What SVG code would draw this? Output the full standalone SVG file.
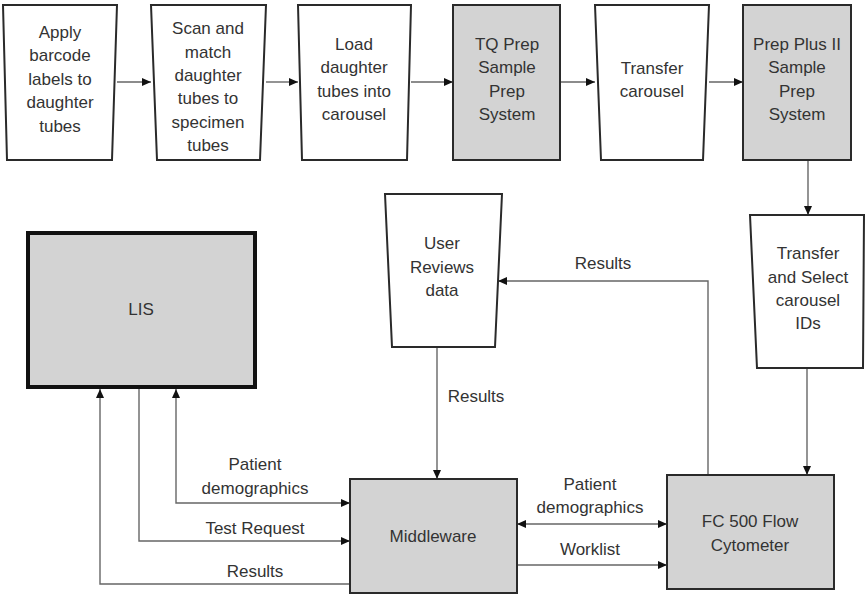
<svg xmlns="http://www.w3.org/2000/svg" width="865" height="594" viewBox="0 0 865 594">
<style>
.box{fill:#fff;stroke:#2a2a2a;stroke-width:2}
.gbox{fill:#d3d3d3;stroke:#2a2a2a;stroke-width:2}
.lis{fill:#d3d3d3;stroke:#111;stroke-width:4}
text{font-family:"Liberation Sans",Arial,sans-serif;font-size:17px;fill:#333;text-anchor:middle}
.c{fill:none;stroke:#666;stroke-width:1.4}
</style>
<defs>
<marker id="ah" markerWidth="9" markerHeight="8" refX="9" refY="4" orient="auto-start-reverse" markerUnits="userSpaceOnUse">
<path d="M0,0 L9,4 L0,8 z" fill="#111"/>
</marker>
</defs>
<rect width="865" height="594" fill="#fff"/>
<g id="connectors">
<path class="c" d="M117,82 H151" marker-end="url(#ah)"/>
<path class="c" d="M266,82 H298" marker-end="url(#ah)"/>
<path class="c" d="M411,82 H453" marker-end="url(#ah)"/>
<path class="c" d="M560,82 H595" marker-end="url(#ah)"/>
<path class="c" d="M709,82 H743" marker-end="url(#ah)"/>
<path class="c" d="M808,160 V215" marker-end="url(#ah)"/>
<path class="c" d="M807,368 V475" marker-end="url(#ah)"/>
<path class="c" d="M708,475 V281 H498" marker-end="url(#ah)"/>
<path class="c" d="M437,347 V479" marker-end="url(#ah)"/>
<path class="c" d="M517,524 H667" marker-start="url(#ah)" marker-end="url(#ah)"/>
<path class="c" d="M517,565 H667" marker-end="url(#ah)"/>
<path class="c" d="M176,389 V503 H350" marker-start="url(#ah)" marker-end="url(#ah)"/>
<path class="c" d="M139,389 V541 H350" marker-end="url(#ah)"/>
<path class="c" d="M350,584 H100 V389" marker-end="url(#ah)"/>
<text x="255" y="470">Patient</text>
<text x="255" y="494">demographics</text>
<text x="255" y="534">Test Request</text>
<text x="255" y="577">Results</text>
<text x="590" y="490">Patient</text>
<text x="590" y="513">demographics</text>
<text x="590" y="555">Worklist</text>
<text x="603" y="269">Results</text>
<text x="476" y="402">Results</text>
</g>
<g id="n1">
<polygon class="box" points="3,5 117,5 112,160 7,160"/>
<text x="60" y="38">Apply</text><text x="60" y="61">barcode</text><text x="60" y="85">labels to</text><text x="60" y="108">daughter</text><text x="60" y="132">tubes</text>
</g>
<g id="n2">
<polygon class="box" points="151,5 266,5 260,160 157,160"/>
<text x="208" y="34">Scan and</text><text x="208" y="58">match</text><text x="208" y="81">daughter</text><text x="208" y="104">tubes to</text><text x="208" y="128">specimen</text><text x="208" y="151">tubes</text>
</g>
<g id="n3">
<polygon class="box" points="298,5 411,5 407,160 302,160"/>
<text x="354" y="50">Load</text><text x="354" y="73">daughter</text><text x="354" y="97">tubes into</text><text x="354" y="120">carousel</text>
</g>
<g id="n4">
<rect class="gbox" x="453" y="5" width="107" height="155"/>
<text x="507" y="50">TQ Prep</text><text x="507" y="73">Sample</text><text x="507" y="97">Prep</text><text x="507" y="120">System</text>
</g>
<g id="n5">
<polygon class="box" points="595,5 709,5 703,160 601,160"/>
<text x="652" y="74">Transfer</text><text x="652" y="97">carousel</text>
</g>
<g id="n6">
<rect class="gbox" x="743" y="5" width="108" height="155"/>
<text x="797" y="50">Prep Plus II</text><text x="797" y="73">Sample</text><text x="797" y="97">Prep</text><text x="797" y="120">System</text>
</g>
<g id="n7">
<polygon class="box" points="750,215 864,215 863,368 757,368"/>
<text x="808" y="259">Transfer</text><text x="808" y="283">and Select</text><text x="808" y="306">carousel</text><text x="808" y="329">IDs</text>
</g>
<g id="n8">
<polygon class="box" points="385,194 502,194 495,347 392,347"/>
<text x="442" y="249">User</text><text x="442" y="273">Reviews</text><text x="442" y="296">data</text>
</g>
<g id="n9">
<rect class="lis" x="28" y="233" width="227" height="154"/>
<text x="141" y="315">LIS</text>
</g>
<g id="n10">
<rect class="gbox" x="350" y="479" width="167" height="114"/>
<text x="433" y="542">Middleware</text>
</g>
<g id="n11">
<rect class="gbox" x="667" y="475" width="167" height="114"/>
<text x="750" y="527">FC 500 Flow</text><text x="750" y="551">Cytometer</text>
</g>
</svg>
